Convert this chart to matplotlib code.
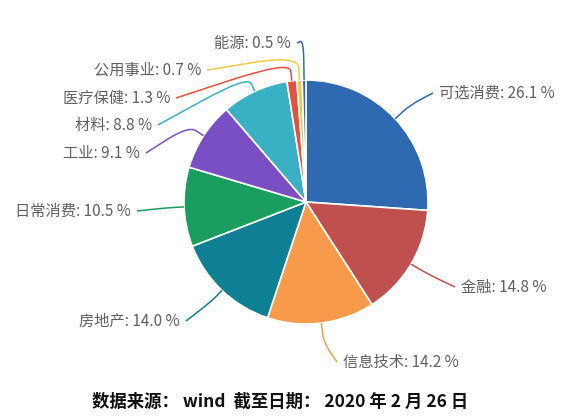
import matplotlib
matplotlib.use('Agg')
import matplotlib.pyplot as plt
from matplotlib.path import Path
from matplotlib.patches import PathPatch
import numpy as np

plt.rcParams['font.family'] = ['Noto Sans CJK SC', 'DejaVu Sans']

# 行业占比 (%)
sectors = ['可选消费', '金融', '信息技术', '房地产', '日常消费',
           '工业', '材料', '医疗保健', '公用事业', '能源']
shares = [26.1, 14.8, 14.2, 14.0, 10.5, 9.1, 8.8, 1.3, 0.7, 0.5]
colors = ['#2f69b0', '#c0504d', '#f79b4a', '#0f7f93', '#1a9e5f',
          '#7b4fc4', '#3ab0c4', '#e5513f', '#f5c842', '#2f6db5']

W, H = 574, 417
fig = plt.figure(figsize=(W / 100, H / 100), dpi=100)
ax = fig.add_axes([0, 0, 1, 1])

cx, cy, R = 306, H - 202, 122
wedges, _ = ax.pie(shares, colors=colors, startangle=90, counterclock=False,
                   center=(cx, cy), radius=R,
                   wedgeprops=dict(edgecolor='white', linewidth=1.2))
ax.set_xlim(0, W)
ax.set_ylim(0, H)
ax.set_aspect('equal')
ax.axis('off')

# 标签布局: (径向引线长度, 引线终点 x, y(自上而下), 文字对齐)
layout = [
    (20, 433, 93, 'left'),
    (20, 455, 287, 'left'),
    (20, 337, 362, 'left'),
    (15, 186, 321, 'right'),
    (15, 137, 211, 'right'),
    (18, 146, 153, 'right'),
    (17, 158, 125, 'right'),
    (20, 176, 98, 'right'),
    (25, 207, 70, 'right'),
    (40, 297, 43, 'right'),
]

for w, name, val, (ln, ex, ey, ha) in zip(wedges, sectors, shares, layout):
    ang = np.deg2rad((w.theta1 + w.theta2) / 2)
    A = np.array([cx + R * np.cos(ang), cy + R * np.sin(ang)])
    B = np.array([cx + (R + ln) * np.cos(ang), cy + (R + ln) * np.sin(ang)])
    C = np.array([ex, H - ey])
    P1 = A + 0.5 * (B - A)
    P2 = B + 0.5 * (C - B)
    path = Path([A, P1, B, P2, C],
                [Path.MOVETO, Path.LINETO, Path.CURVE3, Path.CURVE3, Path.LINETO])
    ax.add_patch(PathPatch(path, fill=False, edgecolor=w.get_facecolor(), lw=1.1))
    tx = ex + 6 if ha == 'left' else ex - 6
    ax.text(tx, H - ey, f'{name}: {val} %', ha=ha, va='center',
            fontsize=11, color='#606060')

ax.text(280, H - 402, '数据来源： wind  截至日期： 2020 年 2 月 26 日',
        ha='center', va='center', fontsize=12.5, fontweight='bold', color='#111111')

fig.savefig('out.png', dpi=100)
